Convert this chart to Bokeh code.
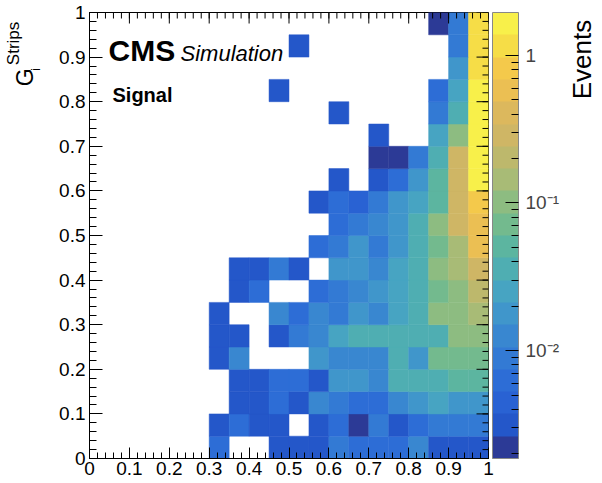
import math
from bokeh.plotting import figure
from bokeh.layouts import row
from bokeh.models import (ColumnDataSource, LogColorMapper, ColorBar, FixedTicker, Range1d)
from bokeh.core.properties import value
from bokeh.embed import file_html
from bokeh.resources import INLINE

# ---- data (events per bin, 20 x 20 bins) ----
x_edges = [0.0, 0.05, 0.1, 0.15, 0.2, 0.25, 0.3, 0.35, 0.4, 0.45, 0.5,
           0.55, 0.6, 0.65, 0.7, 0.75, 0.8, 0.85, 0.9, 0.95, 1.0]
y_edges = [0.0, 0.05, 0.1, 0.15, 0.2, 0.25, 0.3, 0.35, 0.4, 0.45, 0.5,
           0.55, 0.6, 0.65, 0.7, 0.75, 0.8, 0.85, 0.9, 0.95, 1.0]

# columns:  0  1  2  3  4  5  6       7       8       9       10      11      12      13      14      15      16      17      18      19
row_00 = [0, 0, 0, 0, 0, 0, 0.0063, 0,      0,      0.0031, 0.0031, 0.0031, 0.0089, 0.0063, 0.0063, 0.0063, 0.0126, 0.0031, 0.0031, 0.0031]
row_01 = [0, 0, 0, 0, 0, 0, 0.0031, 0.0063, 0.0031, 0.0031, 0,      0.0031, 0.0063, 0.0022, 0.0089, 0.0031, 0.0063, 0.0089, 0.0089, 0.0089]
row_02 = [0, 0, 0, 0, 0, 0, 0,      0.0031, 0.0031, 0.0063, 0.0031, 0.0126, 0.0089, 0.0063, 0.0063, 0.0126, 0.018,  0.025,  0.018,  0.018]
row_03 = [0, 0, 0, 0, 0, 0, 0,      0.0031, 0.0031, 0.0063, 0.0063, 0.0031, 0.018,  0.018,  0.0126, 0.036,  0.036,  0.036,  0.051,  0.051]
row_04 = [0, 0, 0, 0, 0, 0, 0.0031, 0.0126, 0,      0,      0,      0.018,  0.0126, 0.0126, 0.0126, 0.036,  0.018,  0.072,  0.072,  0.072]
row_05 = [0, 0, 0, 0, 0, 0, 0.0031, 0.0031, 0,      0.0031, 0.0089, 0.0126, 0.025,  0.036,  0.036,  0.036,  0.036,  0.036,  0.1,    0.1]
row_06 = [0, 0, 0, 0, 0, 0, 0.0031, 0,      0,      0.0126, 0.0063, 0.0126, 0.0089, 0.018,  0.0126, 0.025,  0.036,  0.1,    0.1,    0.14]
row_07 = [0, 0, 0, 0, 0, 0, 0,      0.0031, 0.0063, 0,      0,      0.0063, 0.0089, 0.0126, 0.018,  0.025,  0.036,  0.072,  0.1,    0.2]
row_08 = [0, 0, 0, 0, 0, 0, 0,      0.0031, 0.0031, 0.0089, 0.0031, 0,      0.018,  0.018,  0.0126, 0.025,  0.036,  0.1,    0.14,   0.29]
row_09 = [0, 0, 0, 0, 0, 0, 0,      0,      0,      0,      0,      0.0063, 0.0089, 0.018,  0.0089, 0.018,  0.036,  0.072,  0.14,   0.58]
row_10 = [0, 0, 0, 0, 0, 0, 0,      0,      0,      0,      0,      0,      0.0063, 0.0089, 0.0126, 0.018,  0.036,  0.1,    0.29,   0.58]
row_11 = [0, 0, 0, 0, 0, 0, 0,      0,      0,      0,      0,      0.0031, 0.0063, 0.0044, 0.0089, 0.018,  0.025,  0.051,  0.29,   0.82]
row_12 = [0, 0, 0, 0, 0, 0, 0,      0,      0,      0,      0,      0,      0.0031, 0,      0.0031, 0.0063, 0.018,  0.051,  0.29,   1.64]
row_13 = [0, 0, 0, 0, 0, 0, 0,      0,      0,      0,      0,      0,      0,      0,      0.0022, 0.0022, 0.0089, 0.036,  0.29,   1.64]
row_14 = [0, 0, 0, 0, 0, 0, 0,      0,      0,      0,      0,      0,      0,      0,      0.0031, 0,      0,      0.025,  0.1,    1.64]
row_15 = [0, 0, 0, 0, 0, 0, 0,      0,      0,      0,      0,      0,      0.0031, 0,      0,      0,      0,      0.0089, 0.036,  1.64]
row_16 = [0, 0, 0, 0, 0, 0, 0,      0,      0,      0.0031, 0,      0,      0,      0,      0,      0,      0,      0.0063, 0.025,  1.64]
row_17 = [0, 0, 0, 0, 0, 0, 0,      0,      0,      0,      0,      0,      0,      0,      0,      0,      0,      0,      0.018,  1.16]
row_18 = [0, 0, 0, 0, 0, 0, 0,      0,      0,      0,      0.0031, 0,      0,      0,      0,      0,      0,      0,      0.0089, 1.16]
row_19 = [0, 0, 0, 0, 0, 0, 0,      0,      0,      0,      0,      0,      0,      0,      0,      0,      0,      0.0022, 0.0089, 1.16]
rows = [row_00, row_01, row_02, row_03, row_04, row_05, row_06, row_07, row_08, row_09,
        row_10, row_11, row_12, row_13, row_14, row_15, row_16, row_17, row_18, row_19]

axis_ticks = [0, 0.1, 0.2, 0.3, 0.4, 0.5, 0.6, 0.7, 0.8, 0.9, 1]
axis_tick_labels = ["0", "0.1", "0.2", "0.3", "0.4", "0.5", "0.6", "0.7", "0.8", "0.9", "1"]
z_ticks = [0.01, 0.1, 1]
z_tick_labels = ["10\u207b\u00b2", "10\u207b\u00b9", "1"]
z_minor_ticks = [2e-3, 3e-3, 4e-3, 5e-3, 6e-3, 7e-3, 8e-3, 9e-3,
                 2e-2, 3e-2, 4e-2, 5e-2, 6e-2, 7e-2, 8e-2, 9e-2,
                 0.2, 0.3, 0.4, 0.5, 0.6, 0.7, 0.8, 0.9]
z_low, z_high = 0.00186, 1.95

palette = ["#2c3a96", "#2457c9", "#2962d3", "#2d6dd6", "#337ad4", "#3987d0", "#4096cb",
           "#47a4c2", "#4faeb2", "#5cb5a0", "#73ba8e", "#8dbc81", "#a8bb76", "#bdb86c",
           "#cfb665", "#dcb85d", "#ebbf53", "#f4c94b", "#f6dd47", "#f8f04a"]

FONT = "Liberation Sans"
H = 483
W_LEFT, W_RIGHT = 48, 36
W_MAIN = 602 - W_LEFT - W_RIGHT
TOP, BOTTOM = 12, 25
FRAME_H = H - TOP - BOTTOM
FRAME_W = 399

# ---- build cells ----
left, right, bottom, top, zz = [], [], [], [], []
for j, r in enumerate(rows):
    for i, v in enumerate(r):
        if v > 0:
            left.append(x_edges[i]); right.append(x_edges[i + 1])
            bottom.append(y_edges[j]); top.append(y_edges[j + 1])
            zz.append(v)
src = ColumnDataSource(dict(left=left, right=right, bottom=bottom, top=top, z=zz))

mapper = LogColorMapper(palette=palette, low=z_low, high=z_high)

p = figure(width=W_MAIN, height=H, x_range=Range1d(0, 1), y_range=Range1d(0, 1),
           output_backend="svg", toolbar_location=None,
           min_border_left=89 - W_LEFT, min_border_right=W_MAIN - (89 - W_LEFT) - FRAME_W,
           min_border_top=TOP, min_border_bottom=BOTTOM)
p.grid.visible = False
p.outline_line_color = "black"
p.outline_line_width = 1
p.background_fill_color = "white"
p.border_fill_color = "white"

p.quad(left="left", right="right", bottom="bottom", top="top", source=src,
       fill_color={"field": "z", "transform": mapper},
       line_color={"field": "z", "transform": mapper}, line_width=0.5)

minor = [k * 0.02 for k in range(51)]

def style_axis(ax, tin, tmin):
    ax.ticker = FixedTicker(ticks=axis_ticks, minor_ticks=minor)
    ax.major_tick_in = tin
    ax.major_tick_out = 0
    ax.minor_tick_in = tmin
    ax.minor_tick_out = 0
    ax.axis_line_color = "black"
    ax.major_tick_line_color = "black"
    ax.minor_tick_line_color = "black"
    ax.major_label_text_font = FONT
    ax.major_label_text_color = "black"
    ax.major_label_text_font_size = "19px"
    ax.major_label_standoff = 4
    ax.major_label_overrides = dict(zip(axis_ticks, axis_tick_labels))

style_axis(p.yaxis[0], 13, 7)
style_axis(p.xaxis[0], 11, 6)
p.xaxis[0].major_label_standoff = 3

# inner tick marks on the top and right edges of the frame
tick_src = ColumnDataSource(dict(t=axis_ticks))
minor_src = ColumnDataSource(dict(t=minor))
ty_maj = 11 / FRAME_H
ty_min = 6 / FRAME_H
tx_maj = 12 / FRAME_W
tx_min = 6 / FRAME_W
p.segment(x0="t", x1="t", y0=1, y1=1 - ty_maj, source=tick_src, line_color="black", line_width=1)
p.segment(x0="t", x1="t", y0=1, y1=1 - ty_min, source=minor_src, line_color="black", line_width=1)
p.segment(x0=1, x1=1 - tx_maj, y0="t", y1="t", source=tick_src, line_color="black", line_width=1)
p.segment(x0=1, x1=1 - tx_min, y0="t", y1="t", source=minor_src, line_color="black", line_width=1)

cb = ColorBar(color_mapper=mapper,
              ticker=FixedTicker(ticks=z_ticks, minor_ticks=z_minor_ticks),
              width=26, height=FRAME_H, location=(4, 0), margin=0, padding=0,
              major_tick_in=13, major_tick_out=0, minor_tick_in=7, minor_tick_out=0,
              major_tick_line_color="black", minor_tick_line_color="black",
              bar_line_color="#888888", border_line_color=None,
              background_fill_alpha=0, label_standoff=7,
              major_label_text_font=FONT, major_label_text_font_size="19px",
              major_label_overrides=dict(zip(z_ticks, z_tick_labels)))
p.add_layout(cb, "right")

# in-frame texts (anchored at the middle of each text line)
p.text(x=[0.0476], y=[0.9137], text=["CMS"], text_font=value(FONT), text_font_style="bold",
       text_font_size="30px", text_color="black", text_baseline="middle")
p.text(x=[0.2281], y=[0.9074], text=["Simulation"], text_font=value(FONT),
       text_font_style="italic", text_font_size="22px", text_color="black",
       text_baseline="middle")
p.text(x=[0.0576], y=[0.8160], text=["Signal"], text_font=value(FONT), text_font_style="bold",
       text_font_size="20px", text_color="black", text_baseline="middle")

# ---- left strip: y axis title G_i^Strips ----
pl = figure(width=W_LEFT, height=H, x_range=Range1d(0, W_LEFT), y_range=Range1d(0, H),
            output_backend="svg", toolbar_location=None, min_border=0,
            x_axis_location=None, y_axis_location=None)
pl.grid.visible = False
pl.outline_line_color = None
pl.text(x=[24], y=[H - 80], text=["G"], angle=math.pi / 2, text_font=value(FONT),
        text_font_size="23px", text_color="black", text_baseline="middle")
pl.text(x=[13], y=[H - 57], text=["Strips"], angle=math.pi / 2, text_font=value(FONT),
        text_font_size="17px", text_color="black", text_baseline="middle")
pl.text(x=[35], y=[H - 63], text=["i"], angle=math.pi / 2, text_font=value(FONT),
        text_font_size="12px", text_color="black", text_baseline="middle")

# ---- right strip: z axis title ----
pr = figure(width=W_RIGHT, height=H, x_range=Range1d(0, W_RIGHT), y_range=Range1d(0, H),
            output_backend="svg", toolbar_location=None, min_border=0,
            x_axis_location=None, y_axis_location=None)
pr.grid.visible = False
pr.outline_line_color = None
pr.text(x=[581 - (602 - W_RIGHT)], y=[H - 94], text=["Events"], angle=math.pi / 2,
        text_font=value(FONT), text_font_size="26px", text_color="black",
        text_baseline="middle")

layout = row(pl, p, pr)
open("out.html", "w").write(file_html(layout, INLINE))
